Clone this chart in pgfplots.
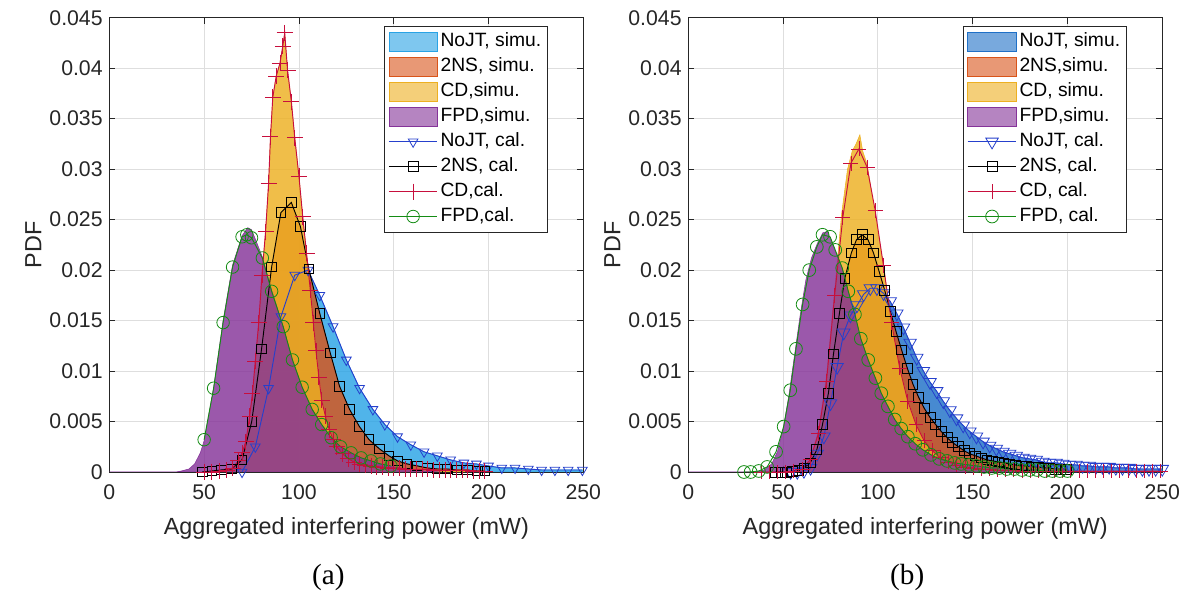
\documentclass[border=0pt]{standalone}
\usepackage{pgfplots}
\pgfplotsset{compat=1.18}
\usepackage{pgfplotstable}
\usepackage{fontspec}
\setmainfont{Liberation Sans}
\newfontfamily\timesfont{Liberation Serif}

\definecolor{hBlueA}{rgb}{0.16,0.64,0.90}
\definecolor{hBlueB}{rgb}{0.12,0.44,0.78}
\definecolor{hOrange}{rgb}{0.85,0.33,0.10}
\definecolor{hYellow}{rgb}{0.93,0.69,0.13}
\definecolor{hPurple}{rgb}{0.52,0.20,0.60}
\definecolor{cBlue}{rgb}{0.15,0.25,0.80}
\definecolor{cRed}{rgb}{0.78,0.06,0.24}
\definecolor{cGreen}{rgb}{0.08,0.55,0.08}
\definecolor{gridc}{rgb}{0.87,0.87,0.87}
\definecolor{axc}{rgb}{0.15,0.15,0.15}

% ---------------- panel (a) ----------------
\pgfplotstableread{
x y
70 0
77 0.0025
84 0.0083
90.5 0.0154
97.8 0.0195
104.8 0.0200
111 0.0175
118 0.0144
125 0.0111
132 0.0083
139 0.0062
145.3 0.0047
152 0.0035
159 0.0027
166 0.0020
173 0.0016
180 0.0012
187 0.0009
193.6 0.0008
200 0.0006
207 0.0004
214 0.0004
221 0.0003
228 0.0002
235 0.0002
242 0.0002
249.5 0.0002
}\aNoJT

\pgfplotstableread{
x y
49 0
54 0.0001
59 0.0002
64.5 0.0003
70 0.0012
75.1 0.0050
80.3 0.0122
85.6 0.0203
90.5 0.0257
96 0.0267
100.8 0.0243
105.2 0.0201
111 0.0157
116.5 0.0118
121.4 0.0085
126.7 0.0062
131.9 0.0045
137 0.0032
142.4 0.0023
147.5 0.0016
152 0.0011
157 0.0008
162.5 0.0006
167.7 0.0004
173 0.0003
178 0.0003
183.4 0.0002
188.7 0.0002
194 0.0001
198 0.0001
}\aTNS

\pgfplotstableread{
x y
50 0
54 0
58 0.0001
62 0.0002
65 0.0004
68 0.0011
70 0.0019
72 0.0030
74 0.0055
75.5 0.0078
77 0.0110
78.8 0.0148
80.5 0.0195
82.4 0.0238
84 0.0286
85 0.0332
86.2 0.0371
88 0.0392
90 0.0405
91.5 0.0422
92.5 0.0435
94 0.0398
96 0.0367
97.8 0.0331
100 0.0293
102 0.0253
104 0.0217
106 0.0180
107.6 0.0148
109 0.0120
110.5 0.0094
112 0.0071
114 0.0055
116 0.0042
118 0.0032
120 0.0025
123 0.0018
126 0.0013
129 0.0010
132 0.0008
135 0.0007
138 0.0006
141 0.0005
144 0.0005
147 0.0004
150 0.0004
153 0.0004
156 0.0003
159 0.0003
162 0.0003
165 0.0003
168 0.0003
171 0.0002
174 0.0002
177 0.0002
180 0.0002
183 0.0002
186 0.0002
189 0.0002
192 0.0001
195 0.0001
198 0.0001
}\aCD

\pgfplotstableread{
x y
50 0.0032
55 0.0083
60 0.0148
65 0.0203
70 0.0233
72.5 0.0235
75 0.0232
80.7 0.0212
85.6 0.0179
91.7 0.0144
96.6 0.0111
101.7 0.0084
107 0.0062
112 0.0047
117 0.0034
122 0.0025
127.5 0.0019
132.8 0.0014
138 0.0011
143 0.0008
148.5 0.0006
}\aFPD

\pgfplotstableread{
x y
0 0
35 0
38 0.0001
42 0.0003
45 0.0008
48 0.0019
50 0.0031
55 0.0083
60 0.0150
65 0.0205
70 0.0234
73 0.0242
75 0.0240
78 0.0226
80.7 0.0213
85.6 0.0180
91.7 0.0144
96.6 0.0111
101.7 0.0084
107 0.0062
112 0.0047
117 0.0034
122 0.0025
127.5 0.0019
132.8 0.0014
138 0.0011
143 0.0008
150 0.0005
160 0.0002
175 0
}\aFPDs

% ---------------- panel (b) ----------------
\pgfplotstableread{
x y
54 0
57.5 0
61 0.0001
64.5 0.0004
68 0.0018
71.5 0.0035
75 0.0068
78.5 0.0104
82 0.0138
85.5 0.0155
89 0.0165
92.5 0.0176
96 0.0182
99.5 0.0182
103 0.0177
106.5 0.0169
110 0.0157
113.5 0.0143
117 0.0128
120.5 0.0113
124 0.0100
127.5 0.0089
131 0.0080
134.5 0.0070
138 0.0061
141.5 0.0053
145 0.0046
148.5 0.0040
152 0.0035
155.5 0.0030
159 0.0026
162.5 0.0023
166 0.0020
169.5 0.0018
173 0.0016
176.5 0.0014
180 0.0013
183.5 0.0012
187 0.0010
190.5 0.0009
194 0.0009
197.5 0.0008
201 0.0007
204.5 0.0007
208 0.0006
211.5 0.0006
215 0.0005
218.5 0.0005
222 0.0005
225.5 0.0004
229 0.0004
232.5 0.0004
236 0.0003
239.5 0.0003
243 0.0003
246.5 0.0003
250 0.0003
}\bNoJT

\pgfplotstableread{
x y
46 0
49 0
52 0
55 0.0001
58 0.0002
61 0.0004
64.3 0.0009
67.8 0.0022
70.8 0.0047
73.9 0.0078
76.6 0.0117
79.7 0.0157
82.6 0.0192
86 0.0217
88.7 0.0230
91.7 0.0235
94.8 0.0230
97.7 0.0217
100.6 0.0199
103.6 0.0180
106.6 0.0159
109.6 0.0139
112.5 0.0121
115.5 0.0103
118.5 0.0087
121.5 0.0074
124.5 0.0063
127.5 0.0054
130.5 0.0047
133.5 0.0040
136.5 0.0034
139.5 0.0029
142.5 0.0025
145.5 0.0021
148.5 0.0018
151.5 0.0016
154.5 0.0014
157.5 0.0012
160.5 0.0011
163.5 0.0010
166.5 0.0009
169.5 0.0008
172.5 0.0007
175.5 0.0006
178.5 0.0006
181.5 0.0005
184.5 0.0005
187.5 0.0004
190.5 0.0004
193.5 0.0003
196.5 0.0003
199.5 0.0003
}\bTNS

\pgfplotstableread{
x y
38.5 0
42.8 0
47.1 0
51.4 0
55.7 0.0001
60 0.0003
64.3 0.0012
68.6 0.0038
72.9 0.0090
77.2 0.0175
81.5 0.0252
85.8 0.0306
90 0.0320
94.3 0.0302
98.6 0.0259
102.9 0.0205
107.2 0.0148
111.5 0.0103
115.8 0.0070
120.1 0.0047
124.4 0.0031
128.7 0.0021
133 0.0014
137.3 0.0010
141.6 0.0007
145.9 0.0005
150.2 0.0004
154.5 0.0003
158.8 0.0003
163.1 0.0002
167.4 0.0002
171.7 0.0002
176 0.0001
180.3 0.0001
184.6 0.0001
188.9 0.0001
193.2 0.0001
197.5 0.0001
201.8 0.0001
206.1 0.0001
210.4 0.0001
214.7 0.0001
219 0.0001
223.3 0.0001
227.6 0.0001
231.9 0.0001
236.2 0.0001
240.5 0.0001
244.8 0.0001
249.1 0.0001
}\bCD

\pgfplotstableread{
x y
40 0
55 0.0001
60 0.0003
64.3 0.0012
68.6 0.0040
72.9 0.0095
77.2 0.0180
80.9 0.0256
84 0.0300
86.5 0.0318
88.5 0.0325
90.5 0.0334
92 0.0318
94.3 0.0305
98.5 0.0256
102.9 0.0205
107.2 0.0148
111.5 0.0103
115.8 0.0070
120.1 0.0047
124.4 0.0031
128.7 0.0021
133 0.0014
140 0.0008
150 0.0004
170 0.0002
200 0.0001
250 0
}\bCDs

\pgfplotstableread{
x y
29.4 0
32.9 0
37.2 0.0001
41.6 0.0005
46.3 0.0020
50.3 0.0045
53.8 0.0081
56.8 0.0122
60.3 0.0166
63.8 0.0200
67.8 0.0223
70.8 0.0235
74.8 0.0233
77.5 0.0220
81.2 0.0202
84.4 0.0179
87.9 0.0156
91 0.0132
94.9 0.0111
98.7 0.0093
101.8 0.0078
105.3 0.0065
108.9 0.0052
112.3 0.0043
115.8 0.0035
119.7 0.0028
123.7 0.0022
128 0.0017
132.4 0.0013
136.5 0.0011
140.5 0.0009
144 0.0008
148 0.0007
152 0.0006
156 0.0005
160 0.0004
164 0.0004
168 0.0003
172 0.0003
176 0.0002
180 0.0002
184 0.0002
188 0.0001
192 0.0001
196 0.0001
200 0.0001
}\bFPD

\pgfplotstableread{
x y
0 0
35 0
40 0.0002
44 0.0008
47 0.0020
50 0.0042
53 0.0075
56 0.0115
59 0.0155
62 0.0190
65 0.0212
68 0.0226
71 0.0237
73.5 0.0238
76 0.0226
79 0.0212
81.2 0.0202
84.4 0.0179
87.9 0.0156
91 0.0132
94.9 0.0111
98.7 0.0093
101.8 0.0078
105.3 0.0065
108.9 0.0052
112.3 0.0043
115.8 0.0035
119.7 0.0028
123.7 0.0022
128 0.0017
132.4 0.0013
140.5 0.0009
152 0.0006
168 0.0003
184 0.0002
200 0.0001
210 0
}\bFPDs

\pgfplotsset{
  myax/.style={
    scale only axis, width=355.5bp, height=340.7bp,
    anchor=south west,
    xmin=0, xmax=250, ymin=0, ymax=0.045,
    scaled y ticks=false, scaled x ticks=false,
    xtick={0,50,100,150,200,250},
    xticklabels={0,50,100,150,200,250},
    ytick={0,0.005,0.01,0.015,0.02,0.025,0.03,0.035,0.04,0.045},
    yticklabels={0,0.005,0.01,0.015,0.02,0.025,0.03,0.035,0.04,0.045},
    grid=major, major grid style={gridc, line width=0.6bp},
    axis line style={axc, line width=0.6bp},
    tick style={axc, line width=0.6bp},
    major tick length=4.5bp,
    tick align=inside,
    ticklabel style={font=\fontsize{16}{19}\selectfont, text=axc},
    xticklabel style={yshift=-6bp},
    yticklabel style={xshift=-1.5bp},
    xlabel={Aggregated interfering power (mW)},
    ylabel={PDF},
    label style={font=\fontsize{17.6}{21}\selectfont, text=axc},
    xlabel style={at={([yshift=-46.5bp]rel axis cs:0.5,0)}, anchor=base},
    ylabel style={at={([xshift=-51bp]rel axis cs:0,0.5)}, anchor=base},
    legend cell align=left,
    legend style={at={(0.926,0.982)}, anchor=north east, draw=axc,
      line width=0.6bp, fill=white, font=\fontsize{14.5}{17}\selectfont,
      inner xsep=3bp, inner ysep=2.4bp, row sep=0bp,
      nodes={inner xsep=2bp, inner ysep=2.4bp, text height=10.6bp, text depth=3.3bp}},
  },
  simu/.style={draw=#1, fill=#1, fill opacity=0.82, line width=0.4bp,
    legend image code/.code={\draw[##1, fill opacity=0.6] (0bp,-7bp) rectangle (36.5bp,7.5bp);}},
  cal/.style={line width=0.7bp,
    legend image code/.code={\draw[mark repeat=2, mark phase=2, ##1] plot coordinates {(0bp,0bp) (18.25bp,0bp) (36.5bp,0bp)};}},
}

\begin{document}
\begin{tikzpicture}
\useasboundingbox (0,0) rectangle (892.5bp,445.5bp);

\begin{axis}[myax, at={(82bp,91.5bp)}, name=A]
\addplot[simu=hBlueA] table {\aNoJT} \closedcycle;
\addplot[simu=hOrange] table {\aTNS} \closedcycle;
\addplot[simu=hYellow] table {\aCD} \closedcycle;
\addplot[simu=hPurple] table {\aFPDs} \closedcycle;
\addplot[cal, cBlue, mark=triangle, mark size=4.2bp, mark options={solid, rotate=180, line width=0.6bp}] table {\aNoJT};
\addplot[cal, black, mark=square, mark size=3.6bp, mark options={solid, line width=0.6bp}] table {\aTNS};
\addplot[cal, cRed, mark=+, mark size=6bp, mark options={solid, line width=0.6bp}] table {\aCD};
\addplot[cal, cGreen, mark=o, mark size=4.7bp, mark options={solid, line width=0.6bp}] table {\aFPD};
\legend{{NoJT, simu.}, {2NS, simu.}, {CD,simu.}, {FPD,simu.}, {NoJT, cal.}, {2NS, cal.}, {CD,cal.}, {FPD,cal.}}
\end{axis}

\begin{axis}[myax, at={(516.2bp,91.5bp)}, name=B]
\addplot[simu=hBlueB] table {\bNoJT} \closedcycle;
\addplot[simu=hOrange] table {\bTNS} \closedcycle;
\addplot[simu=hYellow] table {\bCDs} \closedcycle;
\addplot[simu=hPurple] table {\bFPDs} \closedcycle;
\addplot[cal, cBlue, mark=triangle, mark size=5.4bp, mark options={solid, rotate=180, line width=0.6bp}] table {\bNoJT};
\addplot[cal, black, mark=square, mark size=3.7bp, mark options={solid, line width=0.6bp}] table {\bTNS};
\addplot[cal, cRed, mark=+, mark size=5.6bp, mark options={solid, line width=0.6bp}] table {\bCD};
\addplot[cal, cGreen, mark=o, mark size=4.8bp, mark options={solid, line width=0.6bp}] table {\bFPD};
\legend{{NoJT, simu.}, {2NS,simu.}, {CD, simu.}, {FPD,simu.}, {NoJT, cal.}, {2NS, cal.}, {CD, cal.}, {FPD, cal.}}
\end{axis}

\node[font=\timesfont\fontsize{22}{26}\selectfont, text=black] at ([xshift=-13.5bp, yshift=-79bp]A.south) {(a)};
\node[font=\timesfont\fontsize{22}{26}\selectfont, text=black] at ([xshift=-13.5bp, yshift=-79bp]B.south) {(b)};
\end{tikzpicture}
\end{document}
